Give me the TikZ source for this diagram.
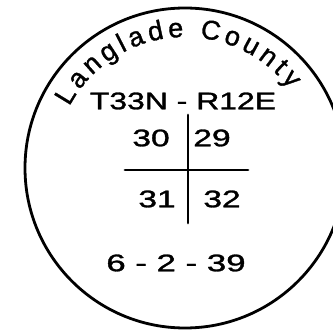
\documentclass[tikz,border=0pt]{standalone}
\usepackage{fontspec}
\setmainfont[FakeBold=1.2]{Liberation Sans}
\usetikzlibrary{decorations.text}
\begin{document}
\begin{tikzpicture}[x=1pt,y=1pt,
  ink/.style={line width=2.8pt, line cap=round},
  hand/.style={font=\fontsize{24}{24}\selectfont, inner sep=0pt, transform shape}]
\useasboundingbox (0,0) rectangle (333,330);
\coordinate (c) at (185,162);
\draw[ink] (c) circle[radius=160];
\path[decorate, decoration={text along path, text align=fit to path,
  text={|\fontsize{27}{27}\selectfont|Langlade County}}]
  (c) ++(152:131) arc[start angle=152, end angle=37, radius=131];
\node[hand, xscale=1.33] (twp) at (183,229) {T33N - R12E};
\node[hand, xscale=1.4] (s30) at (151,192) {30};
\node[hand, xscale=1.4] (s29) at (212,192) {29};
\node[hand, xscale=1.4] (s31) at (157,131) {31};
\node[hand, xscale=1.4] (s32) at (222,131) {32};
\node[hand, xscale=1.45] (date) at (176,67) {6 - 2 - 39};
\coordinate (vt) at (188,215);
\coordinate (vb) at (188,107);
\coordinate (hl) at (125,160);
\coordinate (hr) at (248,160);
\draw[ink] (vt) -- (vb);
\draw[ink] (hl) -- (hr);
\end{tikzpicture}
\end{document}
